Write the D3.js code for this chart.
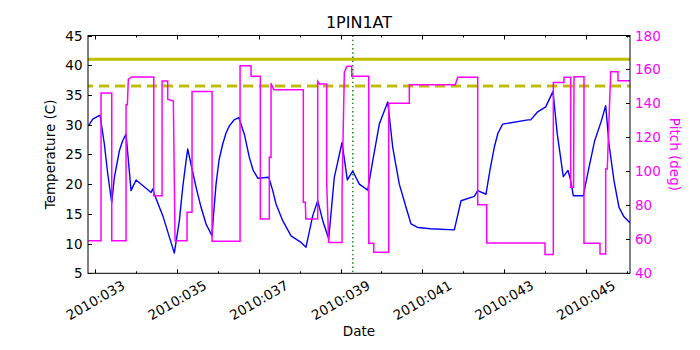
<!DOCTYPE html>
<html>
<head>
<meta charset="utf-8">
<script src="https://cdn.jsdelivr.net/npm/d3@7"></script>
<style>
  html, body { margin: 0; padding: 0; background: #ffffff; }
  svg { display: block; }
  text { font-family: "DejaVu Sans", sans-serif; }
</style>
</head>
<body>
<div id="chart"></div>
<script>
// ---- Data (day-of-year 2010, fractional) ----
const title = "1PIN1AT";
const tempDays = [32.83, 32.936, 33.115, 33.22, 33.303, 33.401, 33.465, 33.587, 33.665, 33.751, 33.873, 33.996,
  34.363, 34.404, 34.443, 34.649, 34.932, 35.055, 35.138, 35.219, 35.26, 35.383, 35.463, 35.586, 35.708,
  35.855, 35.886, 35.953, 36.026, 36.116, 36.197, 36.278, 36.393, 36.508, 36.645, 36.767, 36.858, 36.973,
  37.242, 37.34, 37.42, 37.584,
  37.787, 38.032, 38.154, 38.318, 38.44, 38.563, 38.709, 38.846, 39.035, 39.164, 39.296, 39.458, 39.663,
  39.786, 39.947, 40.153, 40.275, 40.436, 40.6, 40.723, 40.894, 41.2, 41.782, 41.946, 42.271, 42.354,
  42.557, 42.655, 42.76, 42.85, 42.966, 43.585, 43.651, 43.812, 44.018, 44.196, 44.301, 44.448, 44.563, 44.629, 44.693,
  44.937, 45.077, 45.216, 45.378, 45.485, 45.566, 45.688, 45.811, 45.933, 46.08];
const tempVals = [29.8, 30.95, 31.6, 26.75, 21.7, 16.9, 21.15, 25.6, 27.25, 28.4, 18.9, 20.7,
  18.6, 19.2, 18.3, 14.7, 8.4, 13.85, 19.5, 23.9, 25.9, 22.0, 19.5, 16.1, 13.3,
  11.3, 14.4, 20.0, 24.06, 26.75, 28.6, 29.8, 30.79, 31.2, 28.4, 24.5, 22.38, 21.0,
  21.15, 18.9, 16.66, 13.85,
  11.3, 10.2, 9.4, 14.7, 17.2, 13.85, 10.8, 21.15, 27.0, 20.7, 22.2, 20.0, 19.0,
  23.9, 30.1, 33.8, 26.2, 20.0, 16.1, 13.3, 12.7, 12.5, 12.3, 17.2, 17.95, 18.9,
  18.3, 22.38, 26.2, 28.6, 30.1, 30.8, 30.8, 32.1, 33.0, 35.6, 28.4, 21.25, 22.3, 20.6, 18.05,
  18.05, 22.8, 27.3, 30.6, 33.2, 26.75, 20.6, 16.1, 14.5, 13.5];

const pitchDays = [32.83, 33.139, 33.139, 33.401, 33.401, 33.751, 33.751, 33.783, 33.807, 33.89, 34.429,
  34.429, 34.632, 34.632, 34.77, 34.77, 34.908, 34.95, 35.243, 35.243, 35.365, 35.365, 35.855, 35.855,
  36.54, 36.54, 36.809, 36.809, 37.036, 37.036, 37.256, 37.256, 37.298, 37.298, 37.364, 38.088, 38.088,
  38.137, 38.15, 38.44, 38.44, 38.479, 38.66, 38.66, 38.709, 39.035, 39.035, 39.091, 39.157, 39.272,
  39.272, 39.688, 39.688, 39.81, 39.81, 40.177, 40.177, 40.681, 40.681, 41.806, 41.865, 42.354, 42.354,
  42.574, 42.574, 44.0, 44.0, 44.204, 44.204, 44.465, 44.465, 44.629, 44.629, 44.70, 44.71, 44.954,
  44.954, 45.346, 45.346, 45.485, 45.485, 45.524, 45.608, 45.786, 45.786, 46.08];
const pitchVals = [59.2, 59.2, 146.1, 146.1, 59.2, 59.2, 139.3, 139.3, 154.3, 155.6, 155.6,
  85.7, 85.7, 153.2, 153.2, 142.5, 141.4, 59.2, 59.2, 75.9, 75.9, 147.0, 147.0, 58.8,
  58.8, 162.2, 162.2, 156.0, 156.0, 72.0, 72.0, 108.3, 108.3, 151.9, 148.1, 148.1, 81.8,
  81.8, 72.0, 72.0, 153.0, 151.5, 151.5, 92.6, 58.2, 58.2, 88.6, 158.3, 161.9, 161.9,
  156.0, 156.0, 57.7, 57.7, 52.4, 52.4, 140.1, 140.1, 151.0, 151.0, 155.4, 155.4, 80.4,
  80.4, 57.8, 57.8, 51.0, 51.0, 152.4, 152.4, 155.4, 155.4, 90.6, 90.6, 155.7, 155.7,
  57.7, 57.7, 51.4, 51.4, 101.4, 101.4, 158.7, 158.7, 153.4, 153.4];

const limitSolid = 41.0;     // temperature limit (solid)
const limitDashed = 36.5;    // temperature limit (dashed)
const markerDay = 39.30;     // vertical dotted marker

const xDomain = [32.82, 46.08];
const xMajorTicks = [33, 35, 37, 39, 41, 43, 45];
const xMinorTicks = [34, 36, 38, 40, 42, 44, 46];
const tempTicks = [5, 10, 15, 20, 25, 30, 35, 40, 45];
const pitchTicks = [40, 60, 80, 100, 120, 140, 160, 180];
const xLabel = "Date", yLabelLeft = "Temperature (C)", yLabelRight = "Pitch (deg)";

// ---- Layout ----
const W = 700, H = 350;
const L = 88, R = 630, T = 35.5, B = 273.3;
const FS = 13.5;

const svg = d3.select("#chart").append("svg").attr("width", W).attr("height", H);

const x = d3.scaleLinear().domain(xDomain).range([L, R]);
const yT = d3.scaleLinear().domain([5, 45]).range([B, T]);
const yP = d3.scaleLinear().domain([40, 180]).range([B, T]);

svg.append("defs").append("clipPath").attr("id", "clip")
  .append("rect").attr("x", L).attr("y", T).attr("width", R - L).attr("height", B - T);

const plot = svg.append("g").attr("clip-path", "url(#clip)");

// limit lines
plot.append("line").attr("x1", L).attr("x2", R)
  .attr("y1", yT(limitSolid)).attr("y2", yT(limitSolid))
  .attr("stroke", "#bfbf00").attr("stroke-width", 3);
plot.append("line").attr("x1", L).attr("x2", R)
  .attr("y1", yT(limitDashed)).attr("y2", yT(limitDashed))
  .attr("stroke", "#bfbf00").attr("stroke-width", 3)
  .attr("stroke-dasharray", "10,6").attr("stroke-dashoffset", 5);

// temperature line
const tempData = tempDays.map((d, i) => [d, tempVals[i]]);
plot.append("path").datum(tempData)
  .attr("d", d3.line().x(d => x(d[0])).y(d => yT(d[1])))
  .attr("fill", "none").attr("stroke", "#0000ff").attr("stroke-width", 1.4)
  .attr("stroke-linejoin", "round");

// pitch line
const pitchData = pitchDays.map((d, i) => [d, pitchVals[i]]);
plot.append("path").datum(pitchData)
  .attr("d", d3.line().x(d => x(d[0])).y(d => yP(d[1])))
  .attr("fill", "none").attr("stroke", "#ff00ff").attr("stroke-width", 1.5)
  .attr("stroke-linejoin", "miter");

// marker line
plot.append("line").attr("x1", x(markerDay)).attr("x2", x(markerDay))
  .attr("y1", T).attr("y2", B)
  .attr("stroke", "#008000").attr("stroke-width", 1.4)
  .attr("stroke-dasharray", "1.4,2.8");

// frame
svg.append("rect").attr("x", L).attr("y", T).attr("width", R - L).attr("height", B - T)
  .attr("fill", "none").attr("stroke", "#000").attr("stroke-width", 1);

// ticks (inside)
const ticks = svg.append("g").attr("stroke", "#000").attr("stroke-width", 1);
xMajorTicks.forEach(d => {
  const xx = Math.round(x(d)) + 0.5;
  ticks.append("line").attr("x1", xx).attr("x2", xx).attr("y1", B).attr("y2", B - 4);
  ticks.append("line").attr("x1", xx).attr("x2", xx).attr("y1", T).attr("y2", T + 4);
});
xMinorTicks.forEach(d => {
  const xx = Math.round(x(d)) + 0.5;
  ticks.append("line").attr("x1", xx).attr("x2", xx).attr("y1", B).attr("y2", B - 2);
  ticks.append("line").attr("x1", xx).attr("x2", xx).attr("y1", T).attr("y2", T + 2);
});
tempTicks.forEach(v => {
  const yy = Math.round(yT(v)) + 0.5;
  ticks.append("line").attr("x1", L).attr("x2", L + 4).attr("y1", yy).attr("y2", yy);
});
pitchTicks.forEach(v => {
  const yy = Math.round(yP(v)) + 0.5;
  ticks.append("line").attr("x1", R - 4).attr("x2", R).attr("y1", yy).attr("y2", yy);
});

// x tick labels
xMajorTicks.forEach(d => {
  const lab = "2010:" + String(d).padStart(3, "0");
  svg.append("text")
    .attr("transform", `translate(${x(d)},${300}) rotate(-30)`)
    .attr("text-anchor", "middle").attr("dominant-baseline", "central")
    .attr("font-size", FS).attr("fill", "#000").text(lab);
});

// left y tick labels
tempTicks.forEach(v => {
  svg.append("text").attr("x", L - 5.5).attr("y", yT(v))
    .attr("text-anchor", "end").attr("dominant-baseline", "central")
    .attr("font-size", FS).attr("fill", "#000").text(v);
});
// right y tick labels
pitchTicks.forEach(v => {
  svg.append("text").attr("x", R + 5).attr("y", yP(v))
    .attr("text-anchor", "start").attr("dominant-baseline", "central")
    .attr("font-size", FS).attr("fill", "#ff00ff").text(v);
});

// axis labels and title
svg.append("text").attr("x", (L + R) / 2).attr("y", 28)
  .attr("text-anchor", "middle").attr("font-size", 16).attr("fill", "#000").text(title);
svg.append("text").attr("x", (L + R) / 2).attr("y", 336)
  .attr("text-anchor", "middle").attr("font-size", FS).attr("fill", "#000").text(xLabel);
svg.append("text").attr("transform", `translate(55,${(T + B) / 2}) rotate(-90)`)
  .attr("text-anchor", "middle").attr("font-size", FS).attr("fill", "#000").text(yLabelLeft);
svg.append("text").attr("transform", `translate(670,${(T + B) / 2}) rotate(90)`)
  .attr("text-anchor", "middle").attr("font-size", FS).attr("fill", "#ff00ff").text(yLabelRight);
</script>
</body>
</html>
